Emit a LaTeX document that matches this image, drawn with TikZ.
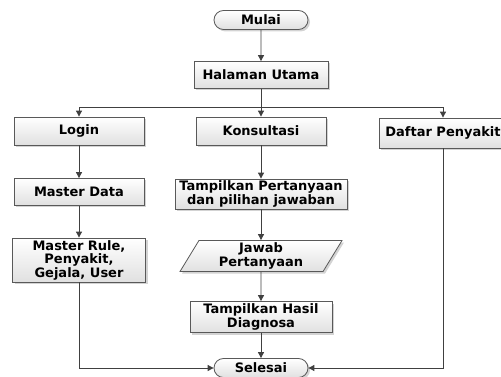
\documentclass[tikz,border=0pt]{standalone}
\usepackage{fontspec}
\setmainfont{DejaVu Sans}
\usepackage{tikz}
\usetikzlibrary{shapes.geometric,shapes.misc,shadows,arrows.meta}

\tikzset{
  kotak/.style={draw=black!65, line width=0.8pt, top color=white, bottom color=black!12,
    drop shadow={shadow xshift=2pt, shadow yshift=-2pt, opacity=0.35},
    align=center, font=\bfseries\fontsize{13}{13.5}\selectfont, inner sep=1.5pt},
  terminal/.style={kotak, rounded rectangle, minimum width=97pt, minimum height=19pt},
  proses/.style={kotak, rectangle},
  masukan/.style={kotak, trapezium, trapezium left angle=57, trapezium right angle=123,
    trapezium stretches body, minimum width=162pt, minimum height=31pt},
  panah/.style={draw=black!75, line width=0.9pt, -{Triangle[length=6pt,width=6pt]}}
}

\begin{document}
\begin{tikzpicture}[x=1pt,y=-1pt]
\useasboundingbox (0,0) rectangle (501,377);

\node[terminal] (mulai) at (261,20) {Mulai};
\node[proses, minimum width=134pt, minimum height=27pt] (halaman) at (261,75) {Halaman Utama};

\node[proses, minimum width=130pt, minimum height=28pt] (login) at (79,131) {Login};
\node[proses, minimum width=130pt, minimum height=28pt] (konsul) at (261,131) {Konsultasi};
\node[proses, minimum width=128pt, minimum height=30pt] (daftar) at (443,133) {Daftar Penyakit};

\node[proses, minimum width=130pt, minimum height=27pt] (master) at (79,192) {Master Data};
\node[proses, minimum width=133pt, minimum height=44pt] (rule) at (79,260) {Master Rule,\\Penyakit,\\Gejala, User};

\node[proses, minimum width=172pt, minimum height=30pt] (tanya) at (261,194) {Tampilkan Pertanyaan\\dan pilihan jawaban};
\node[masukan] (jawab) at (261,256) {Jawab\\Pertanyaan};
\node[proses, minimum width=142pt, minimum height=31pt] (hasil) at (261,317) {Tampilkan Hasil\\Diagnosa};

\node[terminal] (selesai) at (261,368) {Selesai};

\coordinate (cabang) at (261,107);

% alur utama
\draw[panah] (mulai) -- (halaman);
\draw[panah] (halaman) -- (konsul);
\draw[panah] (cabang) -| (login);
\draw[panah] (cabang) -| (daftar);

% login
\draw[panah] (login) -- (master);
\draw[panah] (master) -- (rule);
\draw[panah] (rule) |- (selesai);

% konsultasi
\draw[panah] (konsul) -- (tanya);
\draw[panah] (tanya) -- (jawab);
\draw[panah] (jawab) -- (hasil);
\draw[panah] (hasil) -- (selesai);

% daftar penyakit
\draw[panah] (daftar) |- (selesai);
\end{tikzpicture}
\end{document}
